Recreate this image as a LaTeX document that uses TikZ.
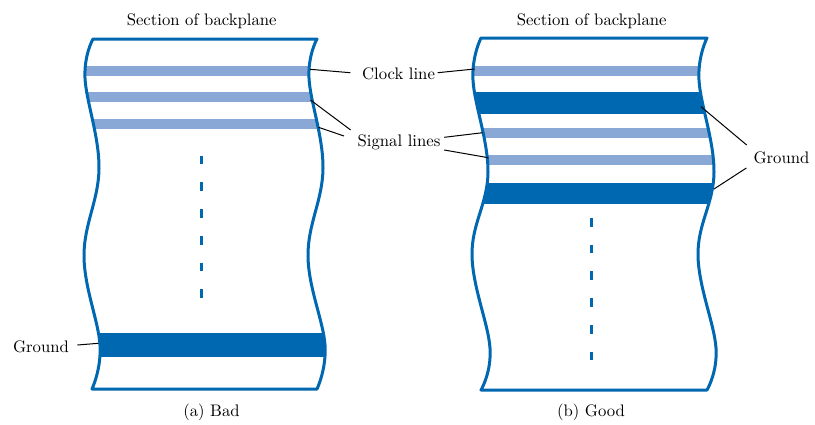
\documentclass[tikz,border=0pt]{standalone}
\usepackage{fontspec}
\setmainfont{lmroman10-regular}[Extension=.otf]
\definecolor{dblue}{HTML}{0067B1}
\definecolor{lblue}{HTML}{89A8D6}
\newcommand\panelApath{(93,39) -- (317,39) -- plot[smooth,tension=0.65] coordinates {(317,39) (309,78) (323,168) (308,256) (325,345) (317,389)} -- (92,389) -- plot[smooth,tension=0.65] coordinates {(92,389) (100,345) (84,256) (99,168) (85,78) (93,39)} -- cycle}
\newcommand\panelBpath{(481,38) -- (707,38) -- plot[smooth,tension=0.65] coordinates {(707,38) (699,80) (714,172) (698,255) (716,348) (707,390)} -- (481,390) -- plot[smooth,tension=0.65] coordinates {(481,390) (490,348) (472,255) (488,172) (473,80) (481,38)} -- cycle}
\begin{document}
\begin{tikzpicture}[x=1pt,y={(0pt,-1pt)},
  outline/.style={draw=dblue,line width=3pt,line join=round},
  lead/.style={draw=black,line width=1pt},
  lbl/.style={inner sep=0pt,font=\fontsize{16.7}{20}\selectfont,anchor=base},
  dashln/.style={draw=dblue,line width=3pt,dash pattern=on 8.7pt off 18pt}]
\useasboundingbox (0,0) rectangle (815,424);
% panel A
\begin{scope}
\clip \panelApath;
\fill[lblue] (60,66) rectangle (360,76);
\fill[lblue] (60,92) rectangle (360,102);
\fill[lblue] (60,119) rectangle (360,129);
\fill[dblue] (60,333) rectangle (360,357);
\end{scope}
\draw[outline] \panelApath;
\draw[dashln] (201.7,155.7) -- (201.7,300);
% panel B
\begin{scope}
\clip \panelBpath;
\fill[lblue] (450,66) rectangle (750,76);
\fill[dblue] (450,92) rectangle (750,114.3);
\fill[lblue] (450,128) rectangle (750,138);
\fill[lblue] (450,155) rectangle (750,165);
\fill[dblue] (450,183.3) rectangle (750,204.3);
\end{scope}
\draw[outline] \panelBpath;
\draw[dashln] (591.7,218) -- (591.7,362);
% labels
\node[lbl] (titA) at (201.7,25) {Section of backplane};
\node[lbl] (titB) at (591.7,25) {Section of backplane};
\node[lbl] (capA) at (211.5,416) {(a) Bad};
\node[lbl] (capB) at (591,416) {(b) Good};
\node[lbl] (clk) at (398.5,79) {Clock line};
\node[lbl] (sig) at (399,146.5) {Signal lines};
\node[lbl] (gndR) at (781.5,163) {Ground};
\node[lbl] (gndL) at (41,352.5) {Ground};
% edge points
\coordinate (eClkA) at (310,69.3);
\coordinate (eClkB) at (474.5,69);
\coordinate (eSigA1) at (310.5,100);
\coordinate (eSigA2) at (318.5,127.3);
\coordinate (eSigB1) at (482.7,132.7);
\coordinate (eSigB2) at (488.3,157.7);
\coordinate (eGndB1) at (701,106.7);
\coordinate (eGndB2) at (714,189);
\coordinate (eGndA) at (98.5,343.3);
% leaders
\draw[lead] (eClkA) -- ([xshift=-11.6pt,yshift=6.3pt]clk.base west);
\draw[lead] ([xshift=2.6pt,yshift=6.3pt]clk.base east) -- (eClkB);
\draw[lead] (eSigA1) -- ([xshift=-6.8pt,yshift=16.5pt]sig.base west);
\draw[lead] (eSigA2) -- ([xshift=-13.5pt,yshift=10.5pt]sig.base west);
\draw[lead] ([xshift=3.7pt,yshift=9.2pt]sig.base east) -- (eSigB1);
\draw[lead] ([xshift=3.7pt,yshift=-3.5pt]sig.base east) -- (eSigB2);
\draw[lead] (eGndB1) -- ([xshift=-6.7pt,yshift=18pt]gndR.base west);
\draw[lead] (eGndB2) -- ([xshift=-7pt,yshift=-5pt]gndR.base west);
\draw[lead] ([xshift=8.2pt,yshift=7.5pt]gndL.base east) -- (eGndA);
\end{tikzpicture}
\end{document}
